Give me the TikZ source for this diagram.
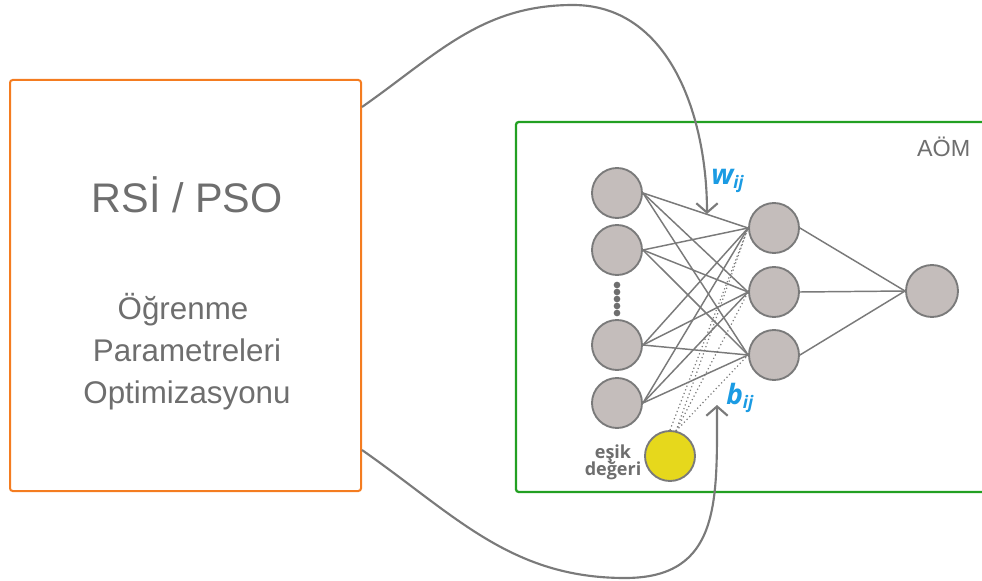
\documentclass[tikz,border=0pt]{standalone}
\usepackage{fontspec}
\setmainfont{Liberation Sans}
\newfontfamily\labfont{Open Sans}
\usetikzlibrary{arrows.meta}
\definecolor{boxorange}{HTML}{F47C20}
\definecolor{boxgreen}{HTML}{22A022}
\definecolor{ngray}{HTML}{7A7A7A}
\definecolor{nfill}{HTML}{C4BDBB}
\definecolor{txtgray}{HTML}{6E6E6E}
\definecolor{wblue}{HTML}{1B9BE3}
\definecolor{biasyellow}{HTML}{E6D81C}
\begin{document}
\begin{tikzpicture}[x=0.75pt,y=-0.75pt,
  neuron/.style={circle,draw=ngray,fill=nfill,line width=1.4pt,minimum size=37.5pt,inner sep=0pt},
  bias/.style={neuron,fill=biasyellow},
  conn/.style={draw=ngray,line width=1.1pt},
  bconn/.style={draw=ngray,line width=0.9pt,dotted},
  feedback/.style={draw=ngray,line width=1.6pt,-{Straight Barb[length=7pt,width=16pt,line width=1.6pt]}},
  dotnode/.style={circle,fill=ngray!90!black,inner sep=0pt,minimum size=5pt},
  bigtxt/.style={text=txtgray,font=\fontsize{31}{36}\selectfont,anchor=base},
  midtxt/.style={text=txtgray,font=\fontsize{23.5}{27}\selectfont,anchor=base},
  wlab/.style={text=wblue,font=\labfont\bfseries\itshape\fontsize{21}{24}\selectfont,anchor=base west,inner sep=0pt}
]
\useasboundingbox (0,0) rectangle (982,581);
\clip (0,0) rectangle (982,581);

% boxes
\node[draw=boxorange,line width=1.5pt,rounded corners=2pt,minimum width=263.25pt,minimum height=308.25pt,inner sep=0pt] (rsi) at (185.5,285.5) {};
\node[draw=boxgreen,line width=1.7pt,rounded corners=2pt,minimum width=363pt,minimum height=277.5pt,inner sep=0pt] (aom) at (758,307) {};

% texts
\node[bigtxt] (title) at (187,213) {RSİ / PSO};
\node[midtxt] (t1) at (183,319) {Öğrenme};
\node[midtxt] (t2) at (187,361) {Parametreleri};
\node[midtxt] (t3) at (187,403) {Optimizasyonu};
\node[text=txtgray,font=\fontsize{17.5}{20}\selectfont,anchor=base east] (aomlab) at (975,157) {AÖM};

% neurons
\node[neuron] (i1) at (617,193) {};
\node[neuron] (i2) at (617,250) {};
\node[neuron] (i3) at (617,345) {};
\node[neuron] (i4) at (617,403) {};
\node[neuron] (h1) at (774,228) {};
\node[neuron] (h2) at (774,292) {};
\node[neuron] (h3) at (774,355) {};
\node[neuron,minimum size=39pt] (o) at (932,291) {};
\node[bias] (b) at (670,456) {};

% dots
\foreach \k/\yy in {1/285,2/292,3/299,4/306,5/313}
  \node[dotnode] (d\k) at (617,\yy) {};

% connections
\foreach \i in {i1,i2,i3,i4}
  \foreach \h in {h1,h2,h3}
    \draw[conn] (\i.east) -- (\h.west);
\foreach \h in {h1,h2,h3}
  \draw[conn] (\h.east) -- (o.west);
\coordinate (btop) at (676,431);
\foreach \h in {h1,h2,h3}
  \draw[bconn] (btop) -- (\h.west);
\draw[bconn] (b.north) -- (h1.west);

% bias label
\node[text=txtgray,font=\labfont\bfseries\fontsize{13.5}{16}\selectfont,align=center] (blab) at (613,462) {eşik\\[-3pt]değeri};

% weight labels
\node[wlab] (wl) at (711,185) {w\raisebox{-3pt}{\fontsize{13}{14}\selectfont ij}};
\node[wlab] (bl) at (726,404) {b\raisebox{-3pt}{\fontsize{13}{14}\selectfont ij}};

% feedback curves
\coordinate (rsiT) at (rsi.east |- 0,107);
\coordinate (rsiB) at (rsi.east |- 0,450);
\coordinate (peak) at (573,5);
\coordinate (wtip) at (707,214);
\coordinate (low) at (625,578);
\coordinate (btip) at (717,405);
\draw[feedback] (rsiT) to[out=35,in=180] (peak) to[out=0,in=90] (wtip);
\draw[feedback] (rsiB) to[out=-35,in=180] (low) to[out=0,in=-90,looseness=1.25] (btip);
\end{tikzpicture}
\end{document}
